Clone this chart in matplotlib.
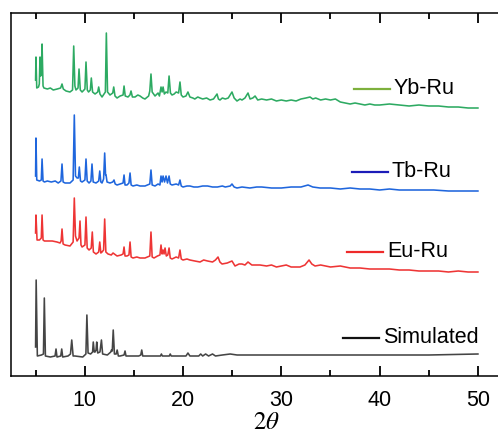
import matplotlib
matplotlib.use("Agg")
import matplotlib.pyplot as plt
from matplotlib.lines import Line2D

plt.rcParams['font.family'] = ['Liberation Sans', 'DejaVu Sans']
plt.rcParams['mathtext.fontset'] = 'stix'

# (2theta, stacked intensity)
yb = [(5.0, 296), (5.04, 319), (5.12, 288), (5.3, 289), (5.38, 292), (5.45, 319), (5.52, 300),
      (5.58, 302), (5.66, 332), (5.76, 290), (5.85, 288), (6.2, 287), (6.5, 288), (6.8, 286),
      (7.2, 287), (7.55, 288), (7.69, 292), (7.82, 287), (8.1, 285), (8.5, 284), (8.76, 286),
      (8.88, 330), (9.0, 290), (9.11, 286), (9.32, 288), (9.42, 307), (9.55, 286), (9.73, 284),
      (10.02, 287), (10.13, 314), (10.26, 286), (10.39, 284), (10.57, 286), (10.67, 298),
      (10.8, 284), (11.05, 282), (11.32, 284), (11.42, 289), (11.55, 282), (11.76, 279),
      (12.1, 284), (12.2, 343), (12.32, 284), (12.57, 281), (12.85, 283), (12.95, 289),
      (13.08, 280), (13.29, 278), (13.6, 280), (13.9, 281), (14.0, 290), (14.12, 280),
      (14.4, 279), (14.6, 281), (14.71, 285), (14.85, 279), (15.12, 279), (15.4, 281),
      (15.63, 280), (15.9, 278), (16.13, 277), (16.5, 280), (16.62, 285), (16.74, 302),
      (16.86, 284), (17.15, 280), (17.46, 283), (17.6, 280), (17.76, 289), (17.87, 284),
      (17.97, 289), (18.1, 282), (18.27, 284), (18.45, 283), (18.58, 300), (18.72, 283),
      (18.88, 281), (19.1, 282), (19.3, 284), (19.55, 283), (19.69, 294), (19.82, 281),
      (20.0, 279), (20.3, 280), (20.5, 284), (20.7, 279), (21.0, 278), (21.2, 277), (21.5, 279),
      (21.73, 278), (22.0, 277), (22.4, 278), (22.75, 276), (23.1, 277), (23.46, 282),
      (23.6, 277), (23.76, 276), (24.0, 278), (24.3, 277), (24.6, 278), (24.98, 284),
      (25.2, 278), (25.49, 275), (25.8, 277), (26.0, 276), (26.3, 278), (26.61, 283),
      (26.82, 277), (27.1, 278), (27.33, 280), (27.6, 276), (28.0, 277), (28.5, 276),
      (29.0, 277), (29.5, 275), (30.0, 276), (30.5, 275), (31.0, 276), (31.5, 275), (32.0, 277),
      (32.5, 278), (32.92, 279), (33.2, 277), (33.5, 278), (34.0, 276), (34.5, 277), (35.0, 276),
      (35.5, 277), (36.0, 274), (36.5, 273), (37.0, 272), (37.5, 273), (38.0, 272), (38.5, 271),
      (39.0, 272), (39.5, 271), (40.0, 271), (41.0, 272), (42.0, 271), (43.0, 270), (44.0, 271),
      (45.0, 270), (46.0, 270), (47.0, 269), (48.0, 269), (49.0, 268), (50.0, 268)]

tb = [(5.0, 200), (5.04, 238), (5.12, 196), (5.4, 195), (5.58, 196), (5.66, 217), (5.76, 195),
      (5.9, 194), (6.2, 195), (6.6, 194), (7.0, 195), (7.3, 193), (7.58, 195), (7.69, 212),
      (7.8, 194), (8.0, 193), (8.5, 193), (8.82, 196), (8.94, 261), (9.06, 200), (9.22, 198),
      (9.35, 198), (9.45, 209), (9.57, 195), (9.73, 194), (10.02, 196), (10.13, 217),
      (10.25, 195), (10.44, 193), (10.63, 195), (10.74, 212), (10.86, 194), (11.15, 193),
      (11.42, 195), (11.53, 205), (11.64, 194), (11.76, 193), (11.92, 197), (12.03, 223),
      (12.12, 201), (12.17, 201), (12.27, 194), (12.57, 193), (12.85, 194), (12.98, 196),
      (13.1, 192), (13.29, 191), (13.6, 192), (13.9, 193), (14.0, 201), (14.1, 191), (14.3, 191),
      (14.5, 193), (14.61, 203), (14.72, 191), (14.91, 190), (15.3, 191), (15.63, 190),
      (16.13, 190), (16.62, 192), (16.74, 206), (16.86, 191), (17.15, 190), (17.46, 192),
      (17.65, 191), (17.76, 200), (17.87, 194), (17.97, 200), (18.12, 194), (18.27, 200),
      (18.42, 193), (18.58, 200), (18.7, 192), (18.88, 191), (19.3, 192), (19.55, 191),
      (19.69, 196), (19.82, 190), (20.0, 189), (20.4, 190), (20.7, 190), (21.1, 189), (21.5, 189),
      (22.0, 190), (22.5, 190), (23.0, 189), (23.5, 189), (24.0, 190), (24.3, 189), (24.8, 190),
      (24.98, 192), (25.2, 189), (25.49, 188), (26.0, 189), (26.8, 188), (27.5, 189), (28.0, 189),
      (29.0, 188), (30.0, 188), (31.0, 189), (32.0, 189), (32.72, 191), (33.2, 189), (33.94, 188),
      (35.0, 188), (36.0, 187), (37.0, 188), (38.0, 187), (39.0, 187), (40.0, 186), (41.0, 187),
      (42.0, 186), (44.0, 186), (45.5, 186), (47.0, 185), (48.5, 185), (50.0, 185)]

eu = [(5.0, 143), (5.04, 161), (5.15, 136), (5.4, 136), (5.58, 138), (5.66, 161), (5.76, 136),
      (5.9, 135), (6.2, 135), (6.7, 135), (7.18, 134), (7.49, 133), (7.6, 135), (7.69, 147),
      (7.8, 132), (8.0, 131), (8.5, 130), (8.82, 134), (8.94, 178), (9.06, 140), (9.22, 135),
      (9.42, 138), (9.52, 155), (9.62, 131), (9.73, 129), (10.02, 131), (10.13, 159),
      (10.25, 128), (10.44, 126), (10.66, 128), (10.77, 144), (10.88, 124), (11.15, 122),
      (11.42, 124), (11.53, 134), (11.64, 123), (11.76, 124), (11.92, 126), (12.03, 157),
      (12.15, 124), (12.37, 122), (12.7, 121), (12.88, 123), (13.29, 120), (13.7, 121),
      (13.9, 122), (14.0, 129), (14.1, 120), (14.3, 120), (14.5, 121), (14.61, 134),
      (14.72, 119), (14.91, 118), (15.3, 119), (15.63, 118), (16.13, 118), (16.62, 120),
      (16.74, 144), (16.86, 119), (17.05, 118), (17.4, 120), (17.65, 121), (17.76, 131),
      (17.87, 122), (17.97, 126), (18.07, 122), (18.17, 128), (18.3, 120), (18.45, 121),
      (18.58, 128), (18.7, 118), (18.88, 117), (19.3, 119), (19.55, 118), (19.69, 126),
      (19.82, 117), (20.0, 116), (20.4, 117), (20.7, 116), (21.2, 115), (21.73, 114),
      (22.1, 116), (22.5, 115), (23.0, 114), (23.3, 116), (23.56, 119), (23.75, 114),
      (23.97, 112), (24.5, 113), (24.98, 115), (25.29, 110), (25.7, 112), (26.0, 112),
      (26.3, 111), (26.61, 114), (27.0, 111), (27.83, 111), (28.5, 110), (29.0, 111),
      (29.5, 109), (30.0, 110), (30.5, 111), (31.0, 109), (31.9, 109), (32.4, 111), (32.82, 116),
      (33.1, 112), (33.43, 110), (34.0, 111), (35.0, 109), (36.0, 110), (37.0, 108), (38.0, 108),
      (39.0, 107), (40.0, 107), (41.0, 107), (42.0, 106), (43.0, 106), (44.0, 105), (45.0, 105),
      (46.0, 105), (47.0, 104), (48.0, 105), (49.0, 104), (50.0, 104)]

sim = [(5.0, 29), (5.06, 96), (5.18, 20), (5.6, 21), (5.8, 22), (5.89, 78), (6.0, 20), (6.5, 19),
       (6.98, 20), (7.08, 27), (7.18, 19), (7.56, 20), (7.66, 27), (7.76, 19), (8.3, 20),
       (8.55, 22), (8.68, 36), (8.82, 20), (9.0, 20), (9.8, 19), (10.12, 22), (10.22, 61),
       (10.34, 23), (10.6, 22), (10.8, 24), (10.87, 34), (10.97, 24), (11.05, 24), (11.15, 26),
       (11.22, 34), (11.32, 23), (11.55, 24), (11.7, 36), (11.82, 22), (12.3, 21), (12.65, 24),
       (12.72, 26), (12.8, 25), (12.9, 46), (13.02, 22), (13.2, 22), (13.3, 26), (13.42, 20),
       (13.6, 20), (14.0, 21), (14.1, 25), (14.2, 20), (15.0, 20), (15.5, 20), (15.7, 21),
       (15.8, 26), (15.9, 20), (17.0, 20), (17.7, 20), (17.8, 22), (17.9, 20), (18.6, 20),
       (18.7, 22), (18.8, 20), (20.3, 20), (20.5, 23), (20.7, 20), (21.6, 20), (21.8, 22),
       (22.0, 20), (22.3, 22), (22.6, 20), (23.0, 22), (23.3, 20), (24.0, 21), (24.8, 22),
       (25.5, 21), (27.0, 21), (30.0, 21), (35.0, 21), (40.0, 21), (45.0, 21), (50.0, 22)]

labels = ['Yb-Ru', 'Tb-Ru', 'Eu-Ru', 'Simulated']
line_colors = ['#2daa62', '#1f66dd', '#ee3535', '#454545']
legend_colors = ['#7db03c', '#1c1cb8', '#ee2a2a', '#111111']
legend_anchor = [(0.698, 0.791), (0.694, 0.562), (0.684, 0.342), (0.675, 0.105)]
x_ticks_major = [10, 20, 30, 40, 50]
x_ticks_minor = [5, 15, 25, 35, 45]

fig = plt.figure(figsize=(4.98, 4.43), dpi=100)
ax = fig.add_axes([11 / 498, 1 - 376 / 443, 491.5 / 498, 363 / 443])

ax.set_xlim(2.5, 52.5)
ax.set_ylim(0, 363)
ax.set_xticks(x_ticks_major)
ax.set_xticks(x_ticks_minor, minor=True)
ax.set_yticks([])
ax.xaxis.set_ticks_position('both')
ax.tick_params(axis='x', which='major', direction='in', length=7.5, width=1.3,
               color='black', labelsize=15.5, pad=10)
ax.tick_params(axis='x', which='minor', direction='in', length=4.0, width=1.3, color='black')

for series, c in zip([yb, tb, eu, sim], line_colors):
    xs, ys = zip(*series)
    ax.plot(xs, ys, color=c, lw=1.15, solid_joinstyle='round', zorder=2)

# legend-style labels next to each curve (axes-fraction anchors)
handle_len = 0.073
for lab, c, (ax_x, ax_y) in zip(labels, legend_colors, legend_anchor):
    ax.add_line(Line2D([ax_x, ax_x + handle_len], [ax_y, ax_y], color=c, lw=1.6,
                       transform=ax.transAxes))
    ax.text(ax_x + handle_len + 0.008, ax_y, lab, transform=ax.transAxes,
            fontsize=15.5, va='center', ha='left', color='black')

for s in ax.spines.values():
    s.set_linewidth(1.1)
ax.set_xlabel(r'$2\theta$', fontsize=18)
ax.xaxis.set_label_coords(0.519, -0.093)

fig.savefig('out.png', dpi=100)
